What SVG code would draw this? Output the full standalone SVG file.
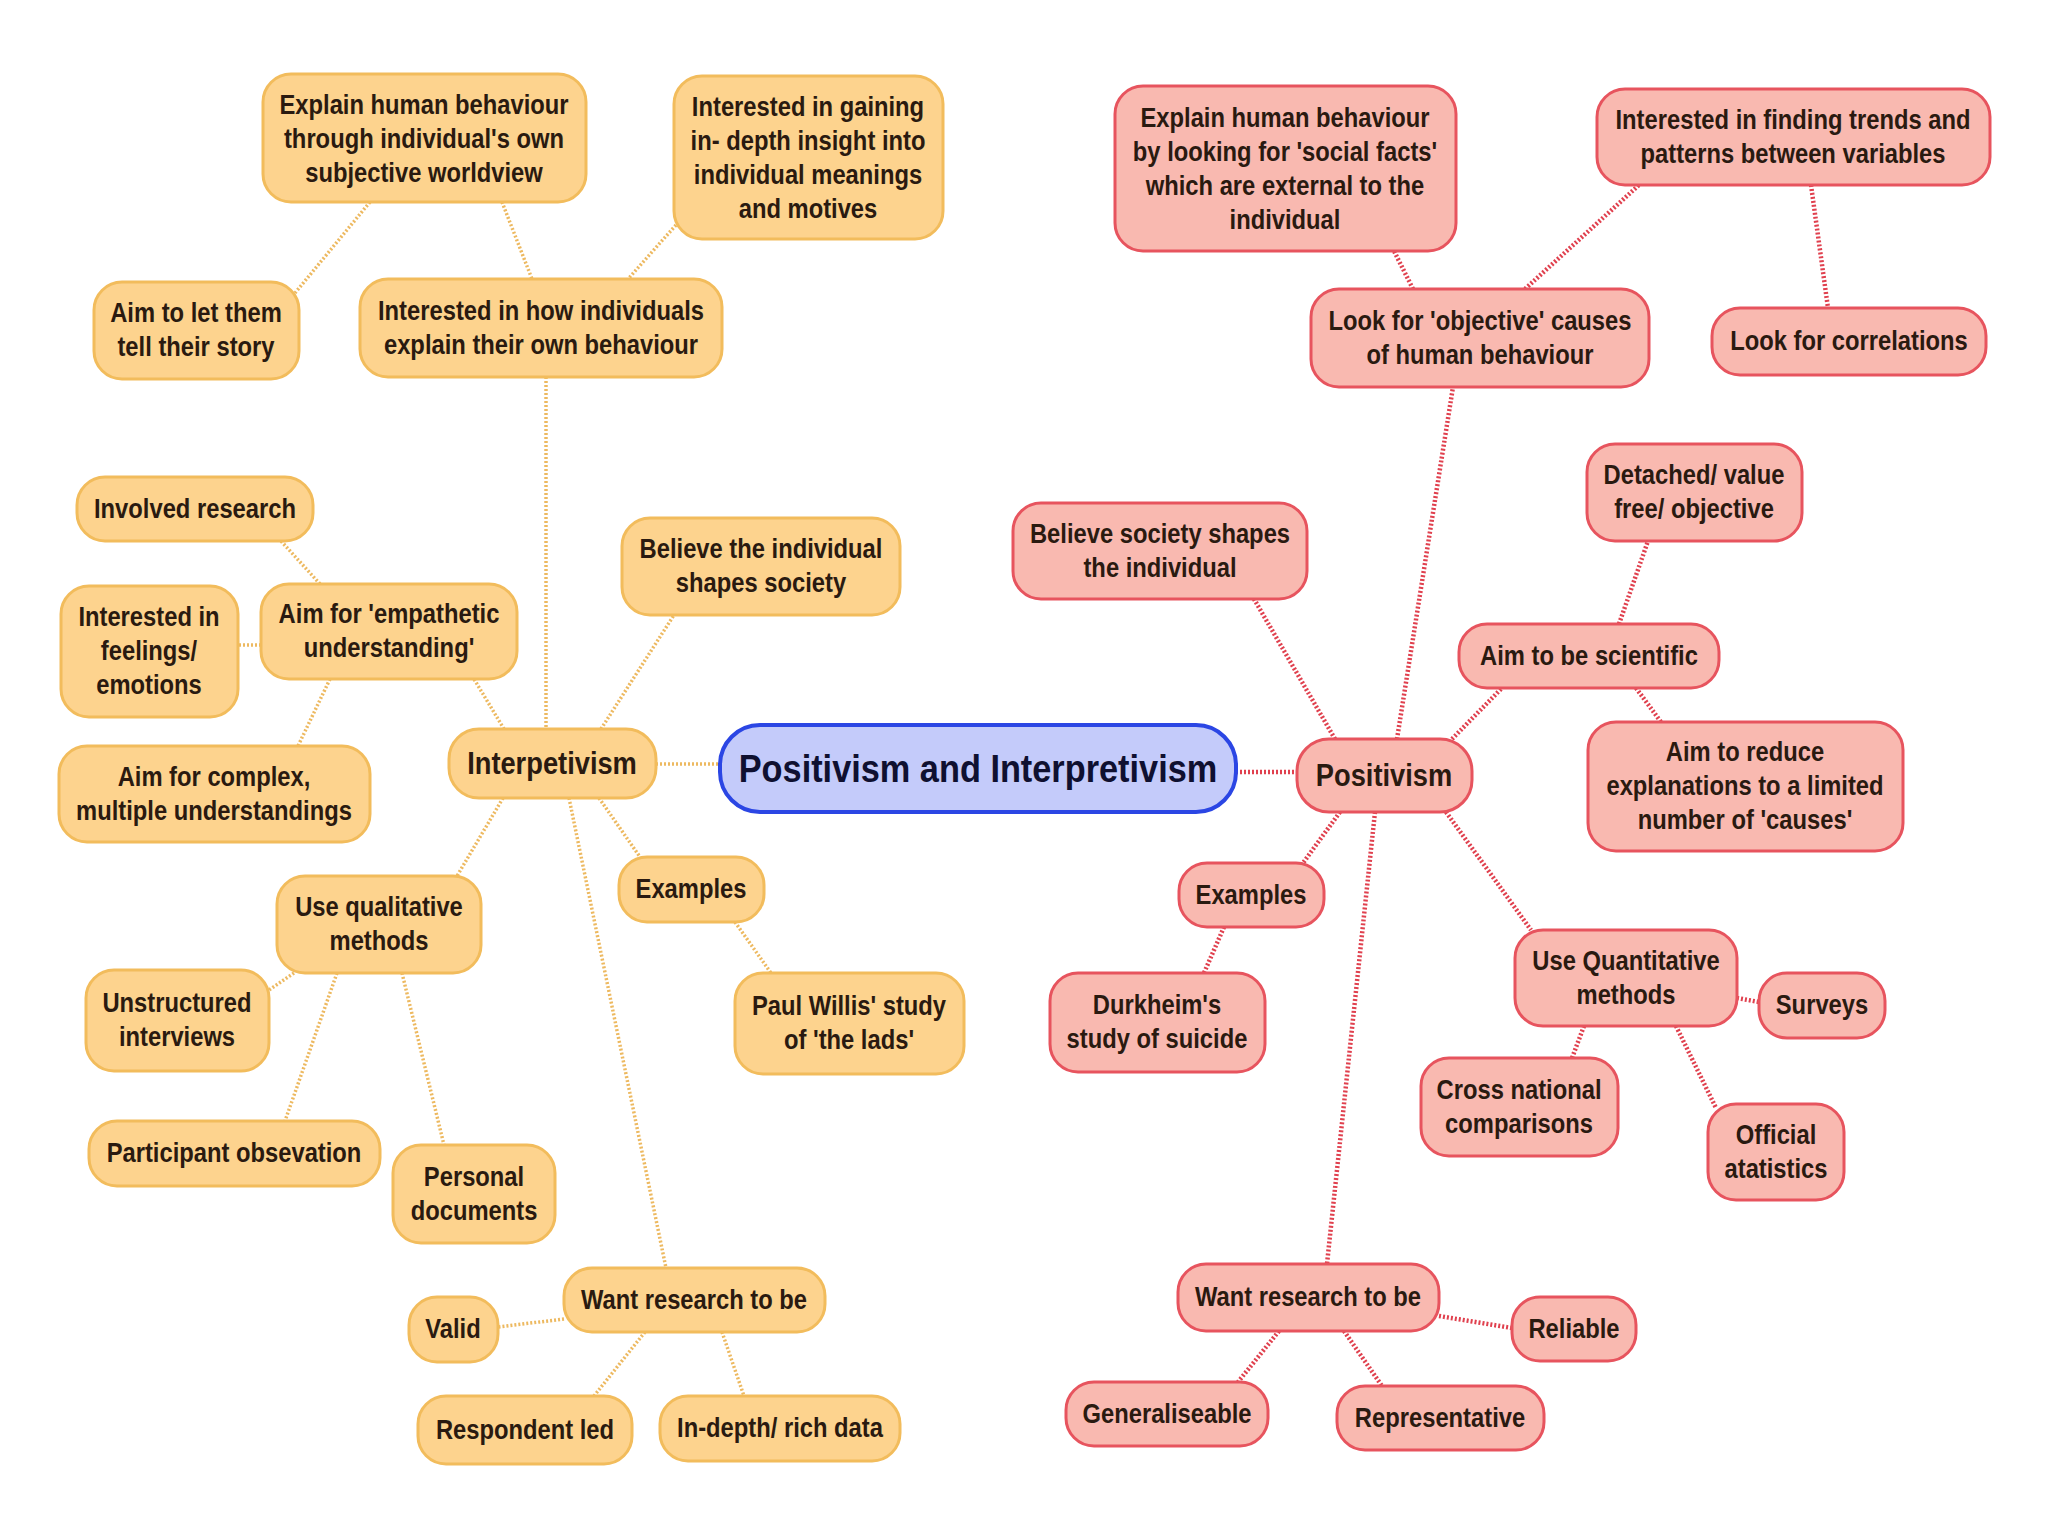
<svg xmlns="http://www.w3.org/2000/svg" width="2048" height="1536" viewBox="0 0 2048 1536">
<style>
.bg{fill:#ffffff}
.o rect{fill:#FDD38E;stroke:#F2BC5C;stroke-width:3}
.r rect{fill:#F9B9B0;stroke:#E7545E;stroke-width:3}
.c rect{fill:#C4CBFA;stroke:#2B46E4;stroke-width:4}
text{font-family:"Liberation Sans",Arial,sans-serif;font-weight:bold;font-size:27px;fill:#2A1A10;text-anchor:middle}
.big{font-size:31px}
.huge{font-size:39px;fill:#0F1030}
.lo{stroke:#EDB960;stroke-width:3.5;stroke-dasharray:2 2;fill:none}
.lr{stroke:#E0404E;stroke-width:4.5;stroke-dasharray:2 2;fill:none}
</style>
<rect class="bg" x="0" y="0" width="2048" height="1536"/>
<g id="connectors">
<line class="lo" x1="656" y1="764" x2="720" y2="764"/>
<line class="lo" x1="546" y1="377" x2="546" y2="729"/>
<line class="lo" x1="502" y1="202" x2="532" y2="279"/>
<line class="lo" x1="676" y1="225" x2="628" y2="279"/>
<line class="lo" x1="370" y1="202" x2="295" y2="293"/>
<line class="lo" x1="504" y1="729" x2="474" y2="679"/>
<line class="lo" x1="320" y1="584" x2="281" y2="541"/>
<line class="lo" x1="261" y1="645" x2="238" y2="645"/>
<line class="lo" x1="330" y1="679" x2="298" y2="746"/>
<line class="lo" x1="601" y1="729" x2="674" y2="615"/>
<line class="lo" x1="503" y1="798" x2="457" y2="876"/>
<line class="lo" x1="599" y1="798" x2="640" y2="857"/>
<line class="lo" x1="735" y1="922" x2="771" y2="973"/>
<line class="lo" x1="569" y1="798" x2="666" y2="1268"/>
<line class="lo" x1="294" y1="973" x2="269" y2="990"/>
<line class="lo" x1="337" y1="973" x2="285" y2="1121"/>
<line class="lo" x1="402" y1="973" x2="444" y2="1145"/>
<line class="lo" x1="564" y1="1319" x2="498" y2="1327"/>
<line class="lo" x1="645" y1="1332" x2="594" y2="1396"/>
<line class="lo" x1="722" y1="1332" x2="744" y2="1396"/>
<line class="lr" x1="1236" y1="772" x2="1297" y2="772"/>
<line class="lr" x1="1397" y1="739" x2="1453" y2="387"/>
<line class="lr" x1="1413" y1="289" x2="1394" y2="251"/>
<line class="lr" x1="1525" y1="289" x2="1639" y2="185"/>
<line class="lr" x1="1811" y1="185" x2="1828" y2="308"/>
<line class="lr" x1="1335" y1="739" x2="1254" y2="599"/>
<line class="lr" x1="1452" y1="739" x2="1502" y2="688"/>
<line class="lr" x1="1619" y1="624" x2="1648" y2="541"/>
<line class="lr" x1="1636" y1="688" x2="1661" y2="722"/>
<line class="lr" x1="1340" y1="812" x2="1303" y2="863"/>
<line class="lr" x1="1224" y1="927" x2="1204" y2="973"/>
<line class="lr" x1="1446" y1="812" x2="1531" y2="930"/>
<line class="lr" x1="1737" y1="998" x2="1759" y2="1002"/>
<line class="lr" x1="1584" y1="1026" x2="1572" y2="1058"/>
<line class="lr" x1="1676" y1="1026" x2="1716" y2="1108"/>
<line class="lr" x1="1375" y1="812" x2="1327" y2="1264"/>
<line class="lr" x1="1439" y1="1316" x2="1512" y2="1328"/>
<line class="lr" x1="1279" y1="1331" x2="1238" y2="1382"/>
<line class="lr" x1="1344" y1="1331" x2="1382" y2="1386"/>
</g>

<g id="central" class="c"><rect x="720" y="725" width="516" height="87" rx="40"/><g transform="translate(978,0) scale(0.88,1)"><text class="huge" x="0" y="782">Positivism and Interpretivism</text></g></g>

<g id="n1" class="o"><rect x="263" y="74" width="323" height="128" rx="28"/><g transform="translate(424,0) scale(0.88,1)"><text x="0" y="114">Explain human behaviour</text><text x="0" y="148">through individual's own</text><text x="0" y="182">subjective worldview</text></g></g>
<g id="n2" class="o"><rect x="674" y="76" width="269" height="163" rx="28"/><g transform="translate(808,0) scale(0.88,1)"><text x="0" y="116">Interested in gaining</text><text x="0" y="150">in- depth insight into</text><text x="0" y="184">individual meanings</text><text x="0" y="218">and motives</text></g></g>
<g id="n3" class="o"><rect x="94" y="282" width="205" height="97" rx="28"/><g transform="translate(196,0) scale(0.88,1)"><text x="0" y="322">Aim to let them</text><text x="0" y="356">tell their story</text></g></g>
<g id="n4" class="o"><rect x="360" y="279" width="362" height="98" rx="28"/><g transform="translate(541,0) scale(0.88,1)"><text x="0" y="320">Interested in how individuals</text><text x="0" y="354">explain their own behaviour</text></g></g>
<g id="n5" class="o"><rect x="77" y="477" width="236" height="64" rx="28"/><g transform="translate(195,0) scale(0.88,1)"><text x="0" y="518">Involved research</text></g></g>
<g id="n6" class="o"><rect x="622" y="518" width="278" height="97" rx="28"/><g transform="translate(761,0) scale(0.88,1)"><text x="0" y="558">Believe the individual</text><text x="0" y="592">shapes society</text></g></g>
<g id="n7" class="o"><rect x="61" y="586" width="177" height="131" rx="28"/><g transform="translate(149,0) scale(0.88,1)"><text x="0" y="626">Interested in</text><text x="0" y="660">feelings/</text><text x="0" y="694">emotions</text></g></g>
<g id="n8" class="o"><rect x="261" y="584" width="256" height="95" rx="28"/><g transform="translate(389,0) scale(0.88,1)"><text x="0" y="623">Aim for 'empathetic</text><text x="0" y="657">understanding'</text></g></g>
<g id="n9" class="o"><rect x="59" y="746" width="311" height="96" rx="28"/><g transform="translate(214,0) scale(0.88,1)"><text x="0" y="786">Aim for complex,</text><text x="0" y="820">multiple understandings</text></g></g>
<g id="n10" class="o"><rect x="449" y="729" width="207" height="69" rx="30"/><g transform="translate(552,0) scale(0.88,1)"><text class="big" x="0" y="774">Interpetivism</text></g></g>
<g id="n11" class="o"><rect x="277" y="876" width="204" height="97" rx="28"/><g transform="translate(379,0) scale(0.88,1)"><text x="0" y="916">Use qualitative</text><text x="0" y="950">methods</text></g></g>
<g id="n12" class="o"><rect x="619" y="857" width="145" height="65" rx="28"/><g transform="translate(691,0) scale(0.88,1)"><text x="0" y="898">Examples</text></g></g>
<g id="n13" class="o"><rect x="86" y="970" width="183" height="101" rx="28"/><g transform="translate(177,0) scale(0.88,1)"><text x="0" y="1012">Unstructured</text><text x="0" y="1046">interviews</text></g></g>
<g id="n14" class="o"><rect x="735" y="973" width="229" height="101" rx="28"/><g transform="translate(849,0) scale(0.88,1)"><text x="0" y="1015">Paul Willis' study</text><text x="0" y="1049">of 'the lads'</text></g></g>
<g id="n15" class="o"><rect x="89" y="1121" width="291" height="65" rx="28"/><g transform="translate(234,0) scale(0.88,1)"><text x="0" y="1162">Participant obsevation</text></g></g>
<g id="n16" class="o"><rect x="393" y="1145" width="162" height="98" rx="28"/><g transform="translate(474,0) scale(0.88,1)"><text x="0" y="1186">Personal</text><text x="0" y="1220">documents</text></g></g>
<g id="n17" class="o"><rect x="564" y="1268" width="261" height="64" rx="28"/><g transform="translate(694,0) scale(0.88,1)"><text x="0" y="1309">Want research to be</text></g></g>
<g id="n18" class="o"><rect x="409" y="1297" width="89" height="65" rx="28"/><g transform="translate(453,0) scale(0.88,1)"><text x="0" y="1338">Valid</text></g></g>
<g id="n19" class="o"><rect x="418" y="1396" width="214" height="68" rx="28"/><g transform="translate(525,0) scale(0.88,1)"><text x="0" y="1439">Respondent led</text></g></g>
<g id="n20" class="o"><rect x="660" y="1396" width="240" height="65" rx="28"/><g transform="translate(780,0) scale(0.88,1)"><text x="0" y="1437">In-depth/ rich data</text></g></g>

<g id="n21" class="r"><rect x="1115" y="86" width="341" height="165" rx="28"/><g transform="translate(1285,0) scale(0.88,1)"><text x="0" y="127">Explain human behaviour</text><text x="0" y="161">by looking for 'social facts'</text><text x="0" y="195">which are external to the</text><text x="0" y="229">individual</text></g></g>
<g id="n22" class="r"><rect x="1597" y="89" width="393" height="96" rx="28"/><g transform="translate(1793,0) scale(0.88,1)"><text x="0" y="129">Interested in finding trends and</text><text x="0" y="163">patterns between variables</text></g></g>
<g id="n23" class="r"><rect x="1311" y="289" width="338" height="98" rx="28"/><g transform="translate(1480,0) scale(0.88,1)"><text x="0" y="330">Look for 'objective' causes</text><text x="0" y="364">of human behaviour</text></g></g>
<g id="n24" class="r"><rect x="1712" y="308" width="274" height="67" rx="28"/><g transform="translate(1849,0) scale(0.88,1)"><text x="0" y="350">Look for correlations</text></g></g>
<g id="n25" class="r"><rect x="1587" y="444" width="215" height="97" rx="28"/><g transform="translate(1694,0) scale(0.88,1)"><text x="0" y="484">Detached/ value</text><text x="0" y="518">free/ objective</text></g></g>
<g id="n26" class="r"><rect x="1013" y="503" width="294" height="96" rx="28"/><g transform="translate(1160,0) scale(0.88,1)"><text x="0" y="543">Believe society shapes</text><text x="0" y="577">the individual</text></g></g>
<g id="n27" class="r"><rect x="1459" y="624" width="260" height="64" rx="28"/><g transform="translate(1589,0) scale(0.88,1)"><text x="0" y="665">Aim to be scientific</text></g></g>
<g id="n28" class="r"><rect x="1297" y="739" width="175" height="73" rx="32"/><g transform="translate(1384,0) scale(0.88,1)"><text class="big" x="0" y="786">Positivism</text></g></g>
<g id="n29" class="r"><rect x="1588" y="722" width="315" height="129" rx="28"/><g transform="translate(1745,0) scale(0.88,1)"><text x="0" y="761">Aim to reduce</text><text x="0" y="795">explanations to a limited</text><text x="0" y="829">number of 'causes'</text></g></g>
<g id="n30" class="r"><rect x="1179" y="863" width="145" height="64" rx="28"/><g transform="translate(1251,0) scale(0.88,1)"><text x="0" y="904">Examples</text></g></g>
<g id="n31" class="r"><rect x="1515" y="930" width="222" height="96" rx="28"/><g transform="translate(1626,0) scale(0.88,1)"><text x="0" y="970">Use Quantitative</text><text x="0" y="1004">methods</text></g></g>
<g id="n32" class="r"><rect x="1759" y="973" width="126" height="65" rx="28"/><g transform="translate(1822,0) scale(0.88,1)"><text x="0" y="1014">Surveys</text></g></g>
<g id="n33" class="r"><rect x="1050" y="973" width="215" height="99" rx="28"/><g transform="translate(1157,0) scale(0.88,1)"><text x="0" y="1014">Durkheim's</text><text x="0" y="1048">study of suicide</text></g></g>
<g id="n34" class="r"><rect x="1421" y="1058" width="197" height="98" rx="28"/><g transform="translate(1519,0) scale(0.88,1)"><text x="0" y="1099">Cross national</text><text x="0" y="1133">comparisons</text></g></g>
<g id="n35" class="r"><rect x="1708" y="1104" width="136" height="96" rx="28"/><g transform="translate(1776,0) scale(0.88,1)"><text x="0" y="1144">Official</text><text x="0" y="1178">atatistics</text></g></g>
<g id="n36" class="r"><rect x="1178" y="1264" width="261" height="67" rx="28"/><g transform="translate(1308,0) scale(0.88,1)"><text x="0" y="1306">Want research to be</text></g></g>
<g id="n37" class="r"><rect x="1512" y="1297" width="124" height="64" rx="28"/><g transform="translate(1574,0) scale(0.88,1)"><text x="0" y="1338">Reliable</text></g></g>
<g id="n38" class="r"><rect x="1066" y="1382" width="202" height="64" rx="28"/><g transform="translate(1167,0) scale(0.88,1)"><text x="0" y="1423">Generaliseable</text></g></g>
<g id="n39" class="r"><rect x="1337" y="1386" width="207" height="64" rx="28"/><g transform="translate(1440,0) scale(0.88,1)"><text x="0" y="1427">Representative</text></g></g>
</svg>
